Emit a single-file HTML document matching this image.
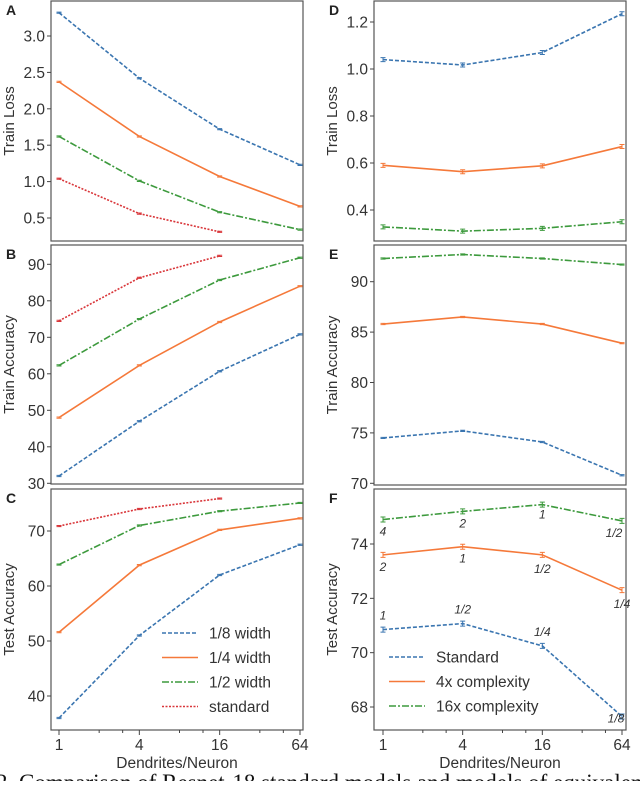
<!DOCTYPE html>
<html><head><meta charset="utf-8"><style>
body{margin:0;background:#fff;width:640px;height:781px;overflow:hidden;font-family:"Liberation Sans",sans-serif}
svg text{font-family:"Liberation Sans",sans-serif}
</style></head><body>
<svg id="fig" width="640" height="781" viewBox="0 0 640 781" xmlns="http://www.w3.org/2000/svg"></svg>
<script>
const xCats=[1,4,16,64];
const aBlue=[3.32,2.42,1.72,1.23], aOrange=[2.37,1.62,1.07,0.66], aGreen=[1.62,1.01,0.58,0.34], aRed=[1.04,0.56,0.31];
const bBlue=[32,47,60.7,70.8], bOrange=[48,62.3,74.2,84], bGreen=[62.3,75,85.7,91.8], bRed=[74.5,86.3,92.3];
const cBlue=[36,51,62,67.5], cOrange=[51.6,63.8,70.2,72.3], cGreen=[63.9,71,73.6,75.1], cRed=[70.9,74,75.9];
const dBlue=[1.04,1.017,1.07,1.235], dOrange=[0.59,0.563,0.588,0.67], dGreen=[0.328,0.31,0.322,0.35];
const eBlue=[74.5,75.2,74.1,70.8], eOrange=[85.8,86.5,85.8,83.9], eGreen=[92.3,92.7,92.3,91.7];
const fBlue=[70.85,71.07,70.25,67.65], fOrange=[73.6,73.9,73.6,72.3], fGreen=[74.9,75.2,75.45,74.85];
const fBlueLbl=["1","1/2","1/4","1/8"], fOrangeLbl=["2","1","1/2","1/4"], fGreenLbl=["4","2","1","1/2"];
const aTicks=[0.5,1.0,1.5,2.0,2.5,3.0], bTicks=[30,40,50,60,70,80,90], cTicks=[40,50,60,70];
const dTicks=[0.4,0.6,0.8,1.0,1.2], eTicks=[70,75,80,85,90], fTicks=[68,70,72,74];
const leftLegend=["1/8 width","1/4 width","1/2 width","standard"];
const rightLegend=["Standard","4x complexity","16x complexity"];

const NS="http://www.w3.org/2000/svg", svg=document.getElementById('fig');
function el(t,a,p){const e=document.createElementNS(NS,t);for(const k in a)e.setAttribute(k,a[k]);(p||svg).appendChild(e);return e;}
const C={blue:"#3a75b0",orange:"#f5793a",green:"#3d9a3d",red:"#d9363a"};
const D={blue:"4,2",orange:"none",green:"7,2,2,2",red:"2,1.5"};

function panel(o){
  const g=el('g',{});
  
  
  const xs=v=>o.x0+Math.log2(v)/6*(o.x64-o.x0);
  const ys=v=>o.yA+(v-o.vA)*(o.yB-o.yA)/(o.vB-o.vA);
  const fr=el('rect',{x:o.L,y:o.T,width:o.R-o.L,height:o.B-o.T,fill:'none',stroke:'#555','stroke-width':1.2},g);
  
  o.ticks.forEach(t=>{
    const y=ys(t);
    el('line',{x1:o.L-4,x2:o.L,y1:y,y2:y,stroke:'#444'},g);
    const tx=el('text',{x:o.L-6,y:y+5.5,'text-anchor':'end','font-size':15.5,fill:'#333'},g);
    tx.textContent=t.toFixed(o.dec);
    
  });
  const lt=el('text',{x:o.L-45,y:o.T+14,'font-size':14,'font-weight':'bold',fill:'#222'},g);
  lt.textContent=o.letter;
  const cy=(o.T+o.B)/2, lx=o.L-37;
  const yl=el('text',{x:lx,y:cy,'text-anchor':'middle','font-size':15,fill:'#333',transform:`rotate(-90 ${lx} ${cy})`},g);
  yl.textContent=o.ylabel;
  if(o.bottom){
    xCats.forEach(v=>{
      el('line',{x1:xs(v),x2:xs(v),y1:o.B,y2:o.B+5,stroke:'#444'},g);
      const t=el('text',{x:xs(v),y:o.B+20,'text-anchor':'middle','font-size':15.5,fill:'#333'},g);
      t.textContent=v;
    });
    [2,3,8,12,32,48].forEach(v=>el('line',{x1:xs(v),x2:xs(v),y1:o.B,y2:o.B+3,stroke:'#444'},g));
    const xl=el('text',{x:(o.L+o.R)/2,y:o.B+38,'text-anchor':'middle','font-size':15.5,fill:'#333'},g);
    xl.textContent='Dendrites/Neuron';
  }
  o.series.forEach(s=>{
    const pts=s.v.map((v,i)=>xs(xCats[i])+','+ys(v)).join(' ');
    const pl=el('polyline',{points:pts,fill:'none',stroke:C[s.c],'stroke-width':1.6,'stroke-dasharray':D[s.c]},g);
    
    s.v.forEach((v,i)=>{
      const x=xs(xCats[i]),y=ys(v),e=o.err||1.5;
      el('path',{d:`M${x-2.5},${y-e}H${x+2.5}M${x},${y-e}V${y+e}M${x-2.5},${y+e}H${x+2.5}`,stroke:C[s.c],'stroke-width':1,fill:'none'},g);
      if(s.lbl){
        const pos=s.pos[i];
        const t=el('text',{x:x+pos[0],y:y+pos[1],'text-anchor':'middle','font-size':12,'font-style':'italic',fill:'#333'},g);
        t.textContent=s.lbl[i];
      }
    });
  });
  if(o.legend){
    o.legend.forEach((name,i)=>{
      const c=o.series[i].c,y=o.legY+i*o.legStep;
      const lg=el('g',{},g);
      
      el('line',{x1:o.legX,x2:o.legX+36,y1:y,y2:y,stroke:C[c],'stroke-width':1.6,'stroke-dasharray':D[c]},lg);
      const t=el('text',{x:o.legX+47,y:y+5.5,'font-size':15.5,fill:'#333'},lg);t.textContent=name;
    });
  }
}
const Lx={L:51,R:303,x0:59,x64:300}, Rx={L:374,R:626,x0:383,x64:622};
panel({...Lx,T:1,B:241,letter:'A',ylabel:'Train Loss',ticks:aTicks,dec:1,vA:3.0,yA:36,vB:0.5,yB:218,
  series:[{n:'blue',c:'blue',v:aBlue},{n:'orange',c:'orange',v:aOrange},{n:'green',c:'green',v:aGreen},{n:'red',c:'red',v:aRed}],err:0.6});
panel({...Lx,T:245,B:484,letter:'B',ylabel:'Train Accuracy',ticks:bTicks,dec:0,vA:90,yA:264.3,vB:30,yB:483.3,
  series:[{n:'blue',c:'blue',v:bBlue},{n:'orange',c:'orange',v:bOrange},{n:'green',c:'green',v:bGreen},{n:'red',c:'red',v:bRed}],err:0.6});
panel({...Lx,T:489,B:730,bottom:true,letter:'C',ylabel:'Test Accuracy',ticks:cTicks,dec:0,vA:70,yA:531,vB:40,yB:696,
  series:[{n:'blue',c:'blue',v:cBlue},{n:'orange',c:'orange',v:cOrange},{n:'green',c:'green',v:cGreen},{n:'red',c:'red',v:cRed}],err:0.6,
  legend:leftLegend,legX:162,legY:633,legStep:24.5});
panel({...Rx,T:1,B:241,letter:'D',ylabel:'Train Loss',ticks:dTicks,dec:1,vA:1.2,yA:22,vB:0.4,yB:210,
  series:[{n:'blue',c:'blue',v:dBlue},{n:'orange',c:'orange',v:dOrange},{n:'green',c:'green',v:dGreen}],err:2});
panel({...Rx,T:245,B:485,letter:'E',ylabel:'Train Accuracy',ticks:eTicks,dec:0,vA:90,yA:281.7,vB:70,yB:483.3,
  series:[{n:'blue',c:'blue',v:eBlue},{n:'orange',c:'orange',v:eOrange},{n:'green',c:'green',v:eGreen}],err:0.6});
panel({...Rx,T:489,B:730,bottom:true,letter:'F',ylabel:'Test Accuracy',ticks:fTicks,dec:0,vA:74,yA:544,vB:68,yB:707,
  series:[{n:'blue',c:'blue',v:fBlue,lbl:fBlueLbl,pos:[[0,-10],[0,-10],[0,-10],[-6,6]]},
          {n:'orange',c:'orange',v:fOrange,lbl:fOrangeLbl,pos:[[0,16],[0,16],[0,18],[0,18]]},
          {n:'green',c:'green',v:fGreen,lbl:fGreenLbl,pos:[[0,16],[0,16],[0,14],[-8,16]]}],err:2.5,
  legend:rightLegend,legX:389,legY:657,legStep:24.5});
const cap=el('text',{x:-4,y:790,'font-size':23,fill:'#111'});
cap.setAttribute('style','font-family:"Liberation Serif",serif');
cap.textContent='2. Comparison of Resnet-18 standard models and models of equivalent budget';


</script>
</body></html>
